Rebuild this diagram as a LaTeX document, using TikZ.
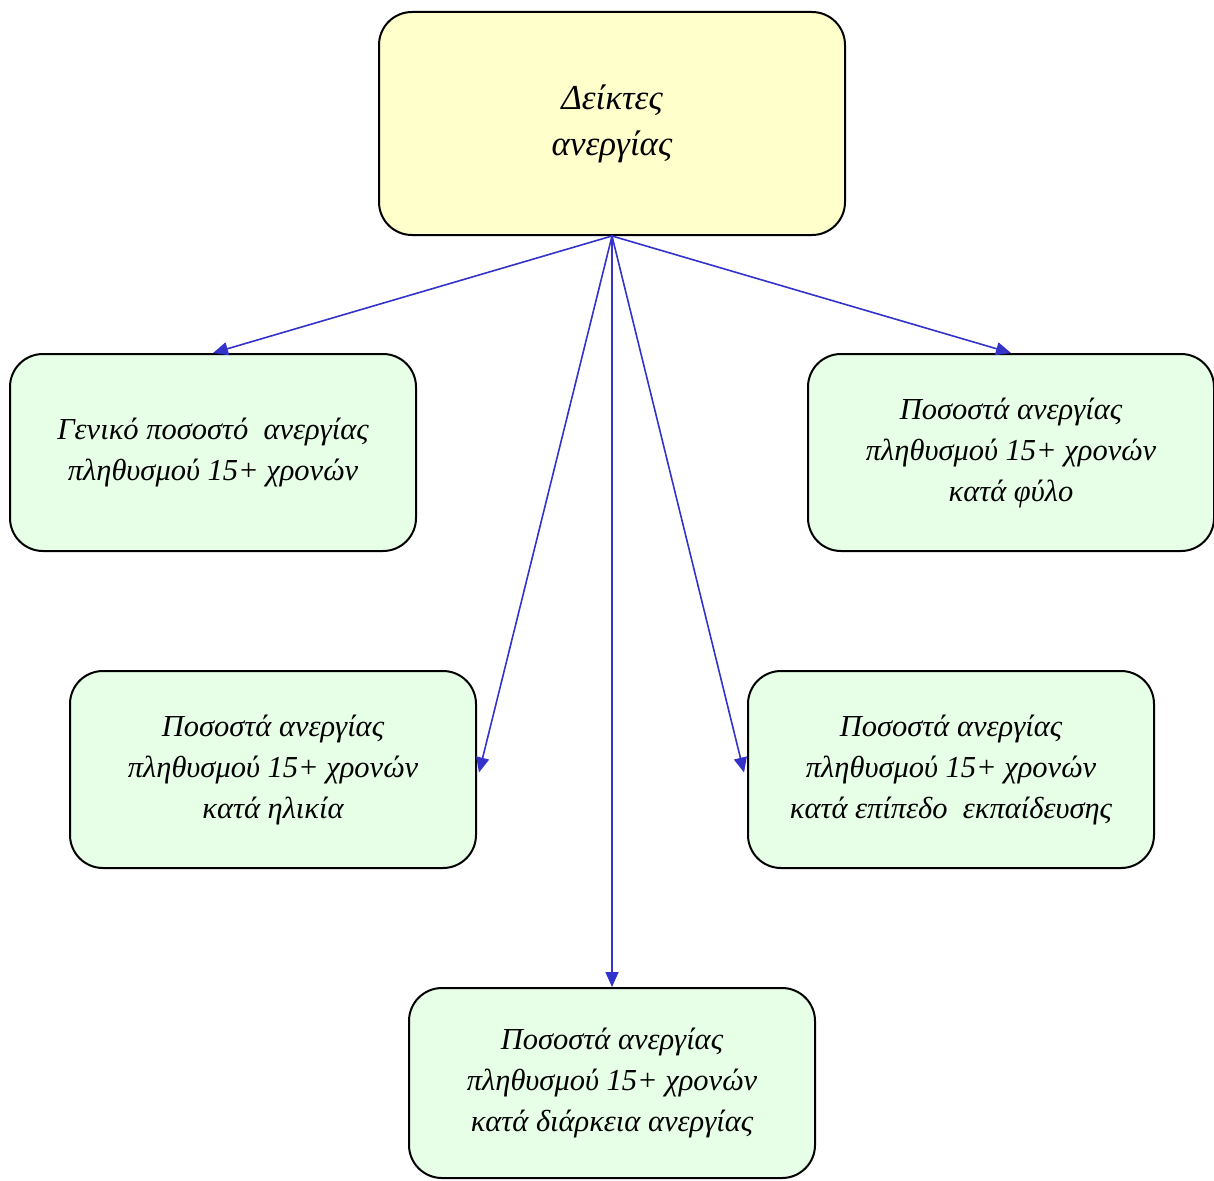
\documentclass[tikz,border=0pt]{standalone}
\usepackage{fontspec}
\setmainfont{Liberation Serif}
\usetikzlibrary{arrows.meta}
\definecolor{topfill}{HTML}{FFFFCC}
\definecolor{boxfill}{HTML}{E6FFE6}
\definecolor{arrowblue}{HTML}{3333CC}
\begin{document}
\begin{tikzpicture}[x=1pt,y=-1pt,
  topbox/.style={draw=black,line width=2pt,fill=topfill,rounded corners=33pt,
    minimum width=466pt,minimum height=223pt,align=center,inner sep=0pt,
    font=\itshape\fontsize{35}{46}\selectfont},
  greenbox/.style={draw=black,line width=2pt,fill=boxfill,rounded corners=33pt,
    minimum width=406pt,minimum height=197pt,align=center,inner sep=0pt,
    font=\itshape\fontsize{30.5}{41}\selectfont},
  conn/.style={draw=arrowblue,line width=1.6pt,-{Triangle[length=15pt,width=13pt]}}]
\useasboundingbox (0,0) rectangle (1214,1180);
\node[topbox] (top) at (612,123.5) {Δείκτες\\ανεργίας};
\node[greenbox] (l1) at (213,452.5) {Γενικό ποσοστό\ \ ανεργίας\\πληθυσμού 15+ χρονών};
\node[greenbox] (r1) at (1011,452.5) {Ποσοστά ανεργίας\\πληθυσμού 15+ χρονών\\κατά φύλο};
\node[greenbox] (l2) at (273,769.5) {Ποσοστά ανεργίας\\πληθυσμού 15+ χρονών\\κατά ηλικία};
\node[greenbox] (r2) at (951,769.5) {Ποσοστά ανεργίας\\πληθυσμού 15+ χρονών\\κατά επίπεδο\ \ εκπαίδευσης};
\node[greenbox,minimum height=190pt] (bot) at (612,1083) {Ποσοστά ανεργίας\\πληθυσμού 15+ χρονών\\κατά διάρκεια ανεργίας};
\draw[conn] (top.south) -- (l1.north);
\draw[conn] (top.south) -- (r1.north);
\draw[conn] (top.south) -- ([xshift=2pt,yshift=-3pt]l2.east);
\draw[conn] (top.south) -- ([xshift=-3pt,yshift=-3pt]r2.west);
\draw[conn] (top.south) -- (bot.north);
\end{tikzpicture}
\end{document}
